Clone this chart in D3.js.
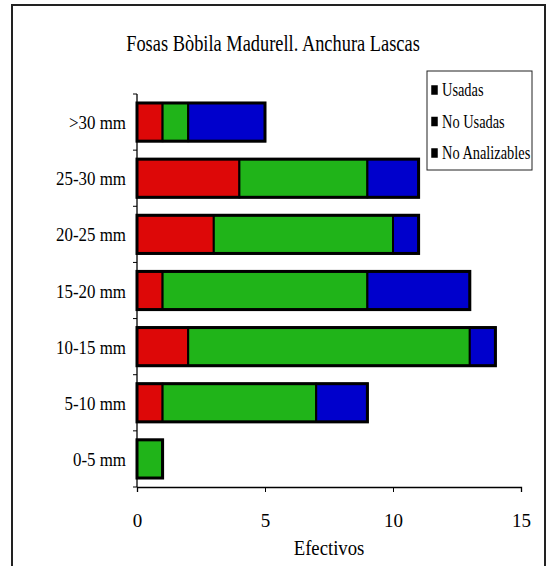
<!DOCTYPE html>
<html>
<head>
<meta charset="utf-8">
<script src="https://cdn.jsdelivr.net/npm/d3@7"></script>
<style>
  body { margin: 0; background: #fff; }
  text { font-family: "Liberation Serif", serif; fill: #000; }
</style>
</head>
<body>
<div id="chart"></div>
<script>
// categories, top to bottom
var categories = [">30 mm", "25-30 mm", "20-25 mm", "15-20 mm", "10-15 mm", "5-10 mm", "0-5 mm"];
var seriesNames = ["Usadas", "No Usadas", "No Analizables"];
var usadas = [1, 4, 3, 1, 2, 1, 0];
var noUsadas = [1, 5, 7, 8, 11, 6, 1];
var noAnalizables = [3, 2, 1, 4, 1, 2, 0];
var xTicks = [0, 5, 10, 15];
var colors = ["#dd0808", "#20b419", "#0000cc"];

var w = 547;
var h = 566;

var svg = d3.select("#chart")
    .append("svg")
    .attr("width", w)
    .attr("height", h);

// narrow serif text: draw at origin, squeeze horizontally
function narrowText(parent, tx, ty, sx, size, anchor, str) {
    return parent.append("text")
        .attr("transform", "translate(" + tx + "," + ty + ") scale(" + sx + ",1)")
        .attr("text-anchor", anchor)
        .style("font-size", size + "px")
        .text(str);
}

// outer frame
svg.append("rect")
    .attr("x", 12).attr("y", 5)
    .attr("width", 533).attr("height", 580)
    .attr("fill", "none")
    .attr("stroke", "#222")
    .attr("stroke-width", 2);

narrowText(svg, 273, 51, 0.8, 23, "middle", "Fosas Bòbila Madurell. Anchura Lascas");

var x = d3.scaleLinear().domain([0, 15]).range([137, 521]);
var y = d3.scaleBand().domain(categories).range([94, 487]).paddingInner(0.32).paddingOuter(0.16);

// build stacked table
var table = categories.map(function (c, i) {
    return { cat: c, Usadas: usadas[i], "No Usadas": noUsadas[i], "No Analizables": noAnalizables[i] };
});
var stack = d3.stack().keys(seriesNames)(table);

var groups = svg.selectAll("g.series")
    .data(stack)
    .enter()
    .append("g")
    .attr("fill", function (d, i) { return colors[i]; });

groups.selectAll("rect")
    .data(function (d) { return d.filter(function (p) { return p[1] - p[0] > 0; }); })
    .enter()
    .append("rect")
    .attr("x", function (d) { return x(d[0]); })
    .attr("y", function (d) { return y(d.data.cat); })
    .attr("width", function (d) { return x(d[1]) - x(d[0]); })
    .attr("height", y.bandwidth())
    .attr("stroke", "#000")
    .attr("stroke-width", 2);

// thicker outline around each whole bar
svg.selectAll("rect.outline")
    .data(table)
    .enter()
    .append("rect")
    .attr("class", "outline")
    .attr("x", x(0))
    .attr("y", function (d) { return y(d.cat); })
    .attr("width", function (d) { return x(d.Usadas + d["No Usadas"] + d["No Analizables"]) - x(0); })
    .attr("height", y.bandwidth())
    .attr("fill", "none")
    .attr("stroke", "#000")
    .attr("stroke-width", 3);

// x axis
var xAxis = svg.append("g")
    .attr("transform", "translate(0,487)")
    .call(d3.axisBottom(x).tickValues(xTicks).tickSize(5).tickPadding(22).tickFormat(d3.format("d")));
xAxis.select(".domain").attr("stroke", "#000").attr("stroke-width", 1.3);
xAxis.selectAll("text")
    .style("font-size", "19px")
    .style("font-family", "Liberation Serif, serif");

// y axis: ticks between categories
var yAxis = svg.append("g").attr("transform", "translate(137,0)");
yAxis.append("line")
    .attr("x1", 0).attr("x2", 0).attr("y1", 94).attr("y2", 487)
    .attr("stroke", "#000").attr("stroke-width", 1.3);
yAxis.selectAll("line.tick")
    .data(d3.range(categories.length + 1))
    .enter()
    .append("line")
    .attr("x1", -4).attr("x2", 0)
    .attr("y1", function (i) { return 94 + i * (487 - 94) / categories.length; })
    .attr("y2", function (i) { return 94 + i * (487 - 94) / categories.length; })
    .attr("stroke", "#000");
categories.forEach(function (c) {
    narrowText(yAxis, -11, y(c) + y.bandwidth() / 2 + 7, 0.89, 19, "end", c);
});

narrowText(svg, 329, 555, 0.85, 22, "middle", "Efectivos");

// legend
var legend = svg.append("g");
legend.append("rect")
    .attr("x", 427).attr("y", 71)
    .attr("width", 105).attr("height", 99)
    .attr("fill", "#fff")
    .attr("stroke", "#222")
    .attr("stroke-width", 1);
seriesNames.forEach(function (s, i) {
    var cy = 90 + i * 31.5;
    legend.append("rect")
        .attr("x", 433).attr("y", cy - 3)
        .attr("width", 3).attr("height", 6)
        .attr("fill", colors[i])
        .attr("stroke", "#000")
        .attr("stroke-width", 3.5);
    narrowText(legend, 442, cy + 6, 0.8, 18, "start", s);
});
</script>
</body>
</html>
